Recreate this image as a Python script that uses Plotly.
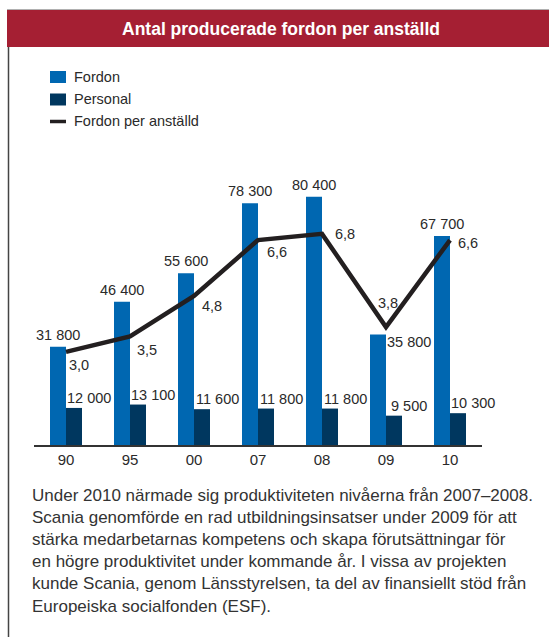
import plotly.graph_objects as go

# ---- data ----
years = ["90", "95", "00", "07", "08", "09", "10"]
fordon = [31800, 46400, 55600, 78300, 80400, 35800, 67700]
personal = [12000, 13100, 11600, 11800, 11800, 9500, 10300]
fordon_per_anstalld = [3.0, 3.5, 4.8, 6.6, 6.8, 3.8, 6.6]

fordon_labels = ["31 800", "46 400", "55 600", "78 300", "80 400", "35 800", "67 700"]
personal_labels = ["12 000", "13 100", "11 600", "11 800", "11 800", "9 500", "10 300"]
ratio_labels = ["3,0", "3,5", "4,8", "6,6", "6,8", "3,8", "6,6"]

title_text = "Antal producerade fordon per anställd"
legend_names = ["Fordon", "Personal", "Fordon per anställd"]
body_text = ("Under 2010 närmade sig produktiviteten nivåerna från 2007–2008.<br>"
             "Scania genomförde en rad utbildningsinsatser under 2009 för att<br>"
             "stärka medarbetarnas kompetens och skapa förutsättningar för<br>"
             "en högre produktivitet under kommande år. I vissa av projekten<br>"
             "kunde Scania, genom Länsstyrelsen, ta del av finansiellt stöd från<br>"
             "Europeiska socialfonden (ESF).")

# ---- style ----
C_FORDON = "#0067B1"
C_PERSONAL = "#00375F"
C_LINE = "#231F20"
C_RED = "#A51F33"
C_TEXT = "#2a2a2a"
FONT = "Liberation Sans, Arial, sans-serif"

W, H = 549, 637
ML, MR, MT, MB = 34, 67, 167, 192
PW, PH = W - ML - MR, H - MT - MB


def px(x):
    return (x - ML) / PW


def py(y):
    return (H - MB - y) / PH


idx = list(range(len(years)))

fig = go.Figure()
fig.add_trace(go.Bar(x=idx, y=fordon, name=legend_names[0],
                     marker=dict(color=C_FORDON, line=dict(width=0)), showlegend=False))
fig.add_trace(go.Bar(x=idx, y=personal, name=legend_names[1],
                     marker=dict(color=C_PERSONAL, line=dict(width=0)), showlegend=False))
fig.add_trace(go.Scatter(x=idx, y=fordon_per_anstalld, name=legend_names[2], yaxis="y2",
                         mode="lines", line=dict(color=C_LINE, width=4.5),
                         showlegend=False))

ann = []
for i, v, t in zip(idx, fordon, fordon_labels):
    if years[i] == "09":
        ann.append(dict(x=i, y=v, xref="x", yref="y", text=t, showarrow=False,
                        xanchor="left", yanchor="middle", xshift=-1, yshift=-8))
    else:
        ann.append(dict(x=i, y=v, xref="x", yref="y", text=t, showarrow=False,
                        xanchor="center", yanchor="middle", xshift=-8, yshift=12))
for i, v, t in zip(idx, personal, personal_labels):
    ann.append(dict(x=i, y=v, xref="x", yref="y", text=t, showarrow=False,
                    xanchor="center", yanchor="middle", xshift=23, yshift=10))
ratio_offsets = [(13, -13), (17, -14), (18, -10), (19, -12), (23, 0), (2, 24), (18, -3)]
for i, v, t, (dx, dy) in zip(idx, fordon_per_anstalld, ratio_labels, ratio_offsets):
    ann.append(dict(x=i, y=v, xref="x", yref="y2", text=t, showarrow=False,
                    xanchor="center", yanchor="middle", xshift=dx, yshift=dy))
for a in ann:
    a["font"] = dict(family=FONT, size=14.5, color=C_TEXT)

# title bar
shapes = [
    dict(type="rect", xref="paper", yref="paper", x0=px(7), x1=px(549), y0=py(47), y1=py(10),
         fillcolor=C_RED, line=dict(width=0), layer="below"),
    dict(type="line", xref="paper", yref="paper", x0=px(7), x1=px(549), y0=py(9.5), y1=py(9.5),
         line=dict(color="#b0b0b0", width=1)),
    dict(type="line", xref="paper", yref="paper", x0=px(8.5), x1=px(8.5), y0=py(47), y1=py(637),
         line=dict(color="#444444", width=1.5)),
]
ann.append(dict(x=px(281), y=py(28.5), xref="paper", yref="paper", text="<b>" + title_text + "</b>",
                showarrow=False, xanchor="center", yanchor="middle",
                font=dict(family=FONT, size=17.5, color="white")))

# legend (drawn manually)
leg_y = [77, 99.5, 121.5]
shapes.append(dict(type="rect", xref="paper", yref="paper", x0=px(50), x1=px(66),
                   y0=py(83), y1=py(71), fillcolor=C_FORDON, line=dict(width=0)))
shapes.append(dict(type="rect", xref="paper", yref="paper", x0=px(50), x1=px(66),
                   y0=py(105.5), y1=py(93.5), fillcolor=C_PERSONAL, line=dict(width=0)))
shapes.append(dict(type="line", xref="paper", yref="paper", x0=px(50), x1=px(66),
                   y0=py(121.5), y1=py(121.5), line=dict(color=C_LINE, width=3.5)))
for name, yy in zip(legend_names, leg_y):
    ann.append(dict(x=px(72), y=py(yy), xref="paper", yref="paper", text=name, showarrow=False,
                    xanchor="left", yanchor="middle",
                    font=dict(family=FONT, size=14.5, color=C_TEXT)))

# body text
ann.append(dict(x=px(31), y=py(485), xref="paper", yref="paper", text=body_text, showarrow=False,
                xanchor="left", yanchor="top", align="left", borderpad=0,
                font=dict(family=FONT, size=17, color="#333333")))

fig.update_layout(
    width=W, height=H,
    margin=dict(l=ML, r=MR, t=MT, b=MB, pad=0),
    paper_bgcolor="white", plot_bgcolor="white",
    barmode="group", bargap=0.5, bargroupgap=0,
    showlegend=False,
    xaxis=dict(range=[-0.5, 6.5], showline=True, linecolor="#333333",
               linewidth=2, ticks="", showgrid=False, zeroline=False,
               tickmode="array", tickvals=idx, ticktext=years,
               tickfont=dict(family=FONT, size=15, color=C_TEXT)),
    yaxis=dict(range=[0, 90000], visible=False, showgrid=False, zeroline=False),
    yaxis2=dict(range=[0, PH / 31.05], overlaying="y", visible=False, showgrid=False,
                zeroline=False),
    shapes=shapes,
    annotations=ann,
)

fig.write_html("out.html")
